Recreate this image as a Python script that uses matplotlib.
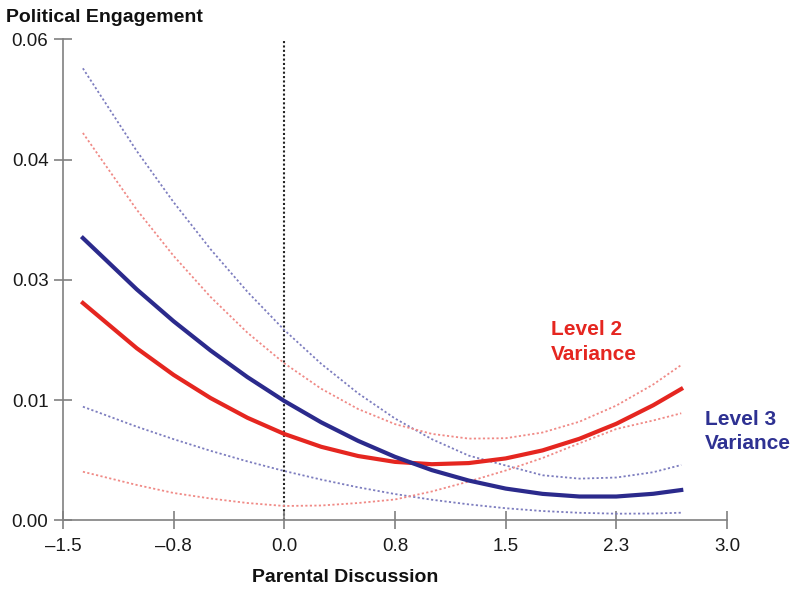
import numpy as np
import matplotlib.pyplot as plt

plt.rcParams['font.family'] = ['Liberation Sans', 'DejaVu Sans']

# parental discussion (x)
discussion = [-1.365, -1.0, -0.75, -0.5, -0.25, 0.0, 0.25, 0.5, 0.75, 1.0,
              1.25, 1.5, 1.75, 2.0, 2.25, 2.5, 2.69]

# level 2 variance: estimate and dotted band
lvl2_mid = [0.02712, 0.02148, 0.01815, 0.01527, 0.01281, 0.01079, 0.00919, 0.00804, 0.00731,
            0.00702, 0.00716, 0.00774, 0.00874, 0.01019, 0.01206, 0.01437, 0.01640]
lvl2_hi = [0.04832, 0.03875, 0.03299, 0.02788, 0.02342, 0.01960, 0.01643, 0.01390, 0.01202,
           0.01080, 0.01021, 0.01026, 0.01097, 0.01232, 0.01433, 0.01696, 0.01939]
lvl2_lo = [0.00608, 0.00443, 0.00343, 0.00274, 0.00218, 0.00181, 0.00187, 0.00218, 0.00262,
           0.00362, 0.00486, 0.00623, 0.00779, 0.00963, 0.01141, 0.01247, 0.01337]

# level 3 variance: estimate and dotted band
lvl3_mid = [0.03522, 0.02882, 0.02484, 0.02120, 0.01788, 0.01490, 0.01224, 0.00993, 0.00794,
            0.00628, 0.00498, 0.00398, 0.00332, 0.00299, 0.00299, 0.00333, 0.00380]
lvl3_hi = [0.05638, 0.04607, 0.03968, 0.03383, 0.02852, 0.02375, 0.01954, 0.01586, 0.01272,
           0.01014, 0.00809, 0.00686, 0.00564, 0.00522, 0.00536, 0.00602, 0.00692]
lvl3_lo = [0.01419, 0.01170, 0.01014, 0.00869, 0.00737, 0.00617, 0.00510, 0.00414, 0.00330,
           0.00259, 0.00201, 0.00153, 0.00118, 0.00096, 0.00085, 0.00087, 0.00097]

x_ticks = [-1.5, -0.75, 0.0, 0.75, 1.5, 2.25, 3.0]
x_labels = ['\u20131.5', '\u20130.8', '0.0', '0.8', '1.5', '2.3', '3.0']
y_ticks = [0.0, 0.015, 0.03, 0.045, 0.06]
y_labels = ['0.00', '0.01', '0.03', '0.04', '0.06']

red = '#e52620'
red_light = '#f08a86'
blue = '#2b2a8c'
blue_light = '#7d7dbf'
axis_grey = '#808080'

fig = plt.figure(figsize=(7.94, 5.90), dpi=100)
ax = fig.add_axes([0.0793, 0.1178, 0.9156 - 0.0793, 0.9334 - 0.1178])

x = np.array(discussion)
dots = (0, (1.2, 1.3))
ax.plot(x, lvl3_hi, color=blue_light, lw=1.3, ls=dots)
ax.plot(x, lvl3_lo, color=blue_light, lw=1.3, ls=dots)
ax.plot(x, lvl2_hi, color=red_light, lw=1.3, ls=dots)
ax.plot(x, lvl2_lo, color=red_light, lw=1.3, ls=dots)
ax.plot(x, lvl2_mid, color=red, lw=3.0, solid_joinstyle='round')
ax.plot(x, lvl3_mid, color=blue, lw=3.0, solid_joinstyle='round')

# reference line at zero discussion
ax.axvline(0.0, color='#222222', lw=1.5, ls=(0, (1, 1.1)), zorder=1)

ax.set_xlim(-1.5, 3.0)
ax.set_ylim(0.0, 0.06)
ax.set_xticks(x_ticks)
ax.set_xticklabels(x_labels)
ax.set_yticks(y_ticks)
ax.set_yticklabels(y_labels)

for side in ['top', 'right']:
    ax.spines[side].set_visible(False)
for side in ['left', 'bottom']:
    ax.spines[side].set_color(axis_grey)
    ax.spines[side].set_linewidth(1.2)
ax.tick_params(direction='inout', length=13, width=1.2, color=axis_grey,
               labelsize=13.5, labelcolor='#1a1a1a')
ax.tick_params(axis='y', pad=4)
ax.tick_params(axis='x', pad=6)

ax.text(1.806, 0.0222, 'Level 2\nVariance', color=red, fontsize=15, fontweight='bold',
        ha='left', va='center', linespacing=1.4, clip_on=False)
ax.text(2.848, 0.0111, 'Level 3\nVariance', color='#2e3192', fontsize=15, fontweight='bold',
        ha='left', va='center', linespacing=1.35, clip_on=False)

fig.text(6 / 794, 1 - 17 / 590, 'Political Engagement', fontsize=14, fontweight='bold',
         ha='left', va='center', color='#111111')
fig.text(345 / 794, 1 - 578 / 590, 'Parental Discussion', fontsize=14, fontweight='bold',
         ha='center', va='center', color='#111111')

fig.savefig('out.png', dpi=100)
